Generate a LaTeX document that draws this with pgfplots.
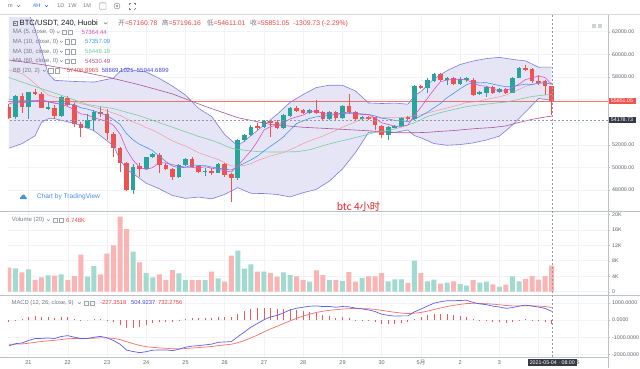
\documentclass[border=0pt]{standalone}
\usepackage{pgfplots}
\pgfplotsset{compat=1.18}
\usepackage{pgfplotstable}
\usepackage{fontspec}
\setmainfont{Liberation Sans}
\newfontfamily\cjk{Noto Sans CJK SC}

\definecolor{upc}{RGB}{38,166,154}
\definecolor{dnc}{RGB}{239,83,80}
\definecolor{volup}{RGB}{162,218,207}
\definecolor{voldn}{RGB}{249,180,179}
\definecolor{bbline}{RGB}{125,125,225}
\definecolor{bbfill}{RGB}{229,229,245}
\definecolor{bbmid}{RGB}{245,135,135}
\definecolor{ma5c}{RGB}{222,80,200}
\definecolor{ma10c}{RGB}{70,150,235}
\definecolor{ma30c}{RGB}{120,205,160}
\definecolor{ma60c}{RGB}{175,85,150}
\definecolor{macdc}{RGB}{95,95,235}
\definecolor{sigc}{RGB}{240,115,105}
\definecolor{histc}{RGB}{240,90,90}
\definecolor{gridc}{RGB}{240,243,250}
\definecolor{txtg}{RGB}{120,123,134}
\definecolor{axt}{RGB}{95,99,109}
\definecolor{sepc}{RGB}{190,193,200}
\definecolor{valred}{RGB}{240,70,70}
\definecolor{valblue}{RGB}{70,70,225}
\definecolor{tvblue}{RGB}{41,98,255}
\definecolor{tvlogo}{RGB}{70,145,230}
\definecolor{darkbox}{RGB}{54,58,69}
\definecolor{crossc}{RGB}{149,152,161}
\definecolor{titlec}{RGB}{19,23,34}
\definecolor{capred}{RGB}{230,35,35}

% candles: i open high low close volume(K)
\pgfplotstableread{
i o h l c v
1 54429 56404 54252 56315 6.03
3 55372 56698 54252 56639 5.78
6 55225 55814 55078 55372 4.23
8 54576 56315 54488 56197 4.48
12 53516 54724 53457 54193 3.88
13 54193 55078 53221 54930 6.64
19 48004 50274 47622 50068 10.34
21 49832 50952 49773 50893 4.83
22 50893 51246 50863 51158 3.71
26 49125 50304 49036 50215 4.74
27 50215 50804 50126 50716 3.02
30 49625 49920 49242 49684 3.02
32 49537 50362 49478 50274 3.45
35 49036 52484 48889 52425 10.6
36 52425 52956 52280 52867 5.95
37 52867 53751 52780 53604 7.07
39 53604 54193 53500 54105 5.17
42 53457 54724 53400 54636 5.0
43 54576 55300 54500 55225 4.31
46 54842 55150 54750 55078 2.59
49 54282 54950 54193 54871 3.02
51 54341 55500 54250 55431 2.76
54 54282 54550 54200 54488 3.54
58 52868 53663 52425 53545 2.68
59 53545 53750 53450 53693 3.19
60 53663 54429 53604 54341 3.19
62 54253 57288 54194 57200 8.02
64 57052 57877 56551 57730 2.68
65 57671 58378 57583 58231 3.11
67 57789 57966 57288 57877 2.33
69 57376 58025 57288 57789 1.99
70 57789 57966 57583 57877 1.56
72 56551 56787 56404 56699 2.33
73 56610 57200 56198 57141 2.59
75 56699 56993 56551 56905 1.30
77 56610 58025 56551 57936 3.97
78 57936 58909 57877 58761 2.68
}\candUp
\pgfplotstableread{
i o h l c v
0 55300 55600 54300 54400 6.21
2 56315 56551 54783 55372 5.00
4 56639 56905 56404 56463 3.02
5 56492 56698 55225 55284 3.71
7 55284 55520 54252 54576 4.14
9 56168 56345 55461 55520 3.02
10 55520 55667 53604 53810 4.05
11 53810 54046 52720 53516 9.57
14 54871 55372 54488 54694 4.48
15 54694 55137 52425 53015 9.82
16 52956 53162 50952 51747 11.98
17 51747 51777 49625 50362 19.39
18 50362 50510 47946 48004 16.2
20 50126 50362 49183 49832 7.59
23 51099 51246 49478 50215 4.48
24 50215 50362 49773 49861 3.02
25 49832 49920 48889 49125 5.6
28 50716 50952 50009 50068 3.02
29 50126 50215 49478 49625 3.02
31 49684 49920 49331 49566 5.17
33 50274 50362 49183 49331 2.59
34 49390 49500 46973 49095 9.31
38 53700 53899 53310 53500 5.17
40 54105 54193 52720 53958 4.83
41 54046 54150 53400 53516 3.88
44 55225 55450 54900 54989 3.97
45 55078 55200 54700 54783 3.02
47 55078 55962 54724 54842 5.52
48 54871 54950 54200 54282 4.31
50 54930 55000 54193 54341 3.02
52 55431 56463 54724 54871 5.09
53 54871 54950 54105 54282 2.59
55 54488 54550 54200 54341 3.97
56 54429 54488 53310 53751 3.97
57 53693 53752 52573 52868 4.83
61 54429 54547 54194 54253 2.25
63 57200 57300 56950 57052 4.83
66 58231 58378 57671 57730 2.07
68 57877 57966 57288 57376 2.68
71 57730 57877 56315 56404 3.02
74 57141 57200 56492 56610 1.90
76 56905 56993 56492 56610 1.81
79 58761 59056 58555 58614 3.28
80 58673 58761 57435 57641 4.05
81 57641 58172 57288 57494 3.11
82 57641 57730 56404 57200 4.05
83 57160.78 57196.16 54611.01 55851.05 6.748
}\candDn

% Bollinger upper / lower
\pgfplotstableread{
i v
0 65500
1 65000
2 64400
3 63700
4 62200
5 60300
6 58300
7 57700
10 57600
13 57550
16 57900
17 58500
18 58800
19 58590
21 58440
23 57870
25 57200
27 56400
29 55220
31 54500
33 52900
35 51900
37 52800
39 53750
41 54690
43 55750
45 56450
47 57060
49 57270
51 57260
53 56760
55 55700
57 55650
59 55690
61 55590
62 56330
63 56700
65 57830
67 58560
69 59100
71 59410
73 59620
75 59730
77 59550
79 59420
81 58860
83 58870
}\bbU
\pgfplotstableread{
i v
0 51700
2 52100
4 52800
5 54000
6 54300
7 54300
10 53900
13 53250
16 51900
17 50700
18 49800
19 49450
21 48600
23 48110
25 47520
27 47260
29 47380
31 47220
33 47620
35 48210
37 47710
39 47690
41 47610
43 47390
45 47770
47 48060
49 48790
51 49860
53 51320
55 53100
57 53170
59 53090
61 53310
62 52810
63 52620
65 52110
67 51960
69 52020
71 52170
73 52420
75 52770
77 53750
79 54900
81 56100
83 55940
}\bbL

% MACD line, signal, histogram
\pgfplotstableread{
i m s h
0 -1506 -1416 -90
1 -1380 -1409 29
2 -1341 -1395 54
3 -1194 -1355 161
4 -1080 -1300 220
5 -1072 -1254 182
6 -1047 -1213 166
7 -1078 -1186 108
8 -961 -1141 180
9 -913 -1095 182
10 -1001 -1076 75
11 -1081 -1077 -4
12 -1078 -1077 -1
13 -1005 -1063 58
14 -956 -1041 85
15 -1039 -1041 2
16 -1194 -1072 -122
17 -1413 -1140 -273
18 -1756 -1263 -493
19 -1839 -1378 -461
20 -1903 -1483 -420
21 -1847 -1556 -291
22 -1761 -1597 -164
23 -1747 -1627 -120
24 -1746 -1651 -95
25 -1783 -1677 -106
26 -1705 -1683 -22
27 -1584 -1663 79
28 -1524 -1635 111
29 -1494 -1607 113
30 -1450 -1576 126
31 -1407 -1542 135
32 -1302 -1494 192
33 -1279 -1451 172
34 -1266 -1414 148
35 -975 -1326 351
36 -701 -1201 500
37 -421 -1045 624
38 -204 -877 673
39 17 -698 715
40 178 -523 701
41 267 -365 632
42 423 -207 630
43 587 -48 635
44 690 100 590
45 746 229 517
46 805 344 461
47 823 440 383
48 783 509 274
49 790 565 225
50 745 601 144
51 787 638 149
52 766 664 102
53 694 670 24
54 647 665 -18
55 591 650 -59
56 494 619 -125
57 341 563 -222
58 272 505 -233
59 226 449 -223
60 240 407 -167
61 240 374 -134
62 473 394 79
63 638 443 195
64 814 517 297
65 983 610 373
66 1064 701 363
67 1127 786 341
68 1124 854 270
69 1141 911 230
70 1149 959 190
71 1024 972 52
72 938 965 -27
73 896 951 -55
74 810 923 -113
75 757 890 -133
76 683 849 -166
77 724 824 -100
78 813 822 -9
79 862 830 32
80 813 827 -14
81 753 812 -59
82 674 784 -110
83 505 732 -227
}\macd

\pgfplotsset{
  pane/.style={scale only axis, width=600pt, xmin=-0.1376, xmax=91.606,
    scaled x ticks=false, scaled y ticks=false,
    axis line style={draw=none}, tick style={draw=none},
    xticklabels={}, yticklabels={}, xtick={3,9,...,87},
    grid=major, major grid style={draw=gridc, line width=0.5pt}},
  wick/.style={draw=none, mark=none, forget plot,
    error bars/.cd, y dir=both, y explicit, error mark=none,
    error bar style={draw=#1, line width=0.9pt, solid}},
  body/.style={draw=none, mark=none, forget plot,
    error bars/.cd, y dir=both, y explicit, error mark=none,
    error bar style={draw=#1, line width=4.6pt, solid}},
}

\begin{document}
\begin{tikzpicture}
\fill[white] (0pt,0pt) rectangle (640pt,368pt);

% ---------------- main price pane ----------------
\begin{axis}[pane, at={(8pt,351pt)}, anchor=north west, height=194pt,
  ymin=46147, ymax=63300,
  ytick={48000,50000,52000,54000,56000,58000,60000,62000}]
  \addplot[fill=bbfill, draw=none] coordinates {(0,65500)(1,65000)(2,64400)(3,63700)(4,62200)(5,60300)(6,58300)(7,57700)(10,57600)(13,57550)(16,57900)(17,58500)(18,58800)(19,58590)(21,58440)(23,57870)(25,57200)(27,56400)(29,55220)(31,54500)(33,52900)(35,51900)(37,52800)(39,53750)(41,54690)(43,55750)(45,56450)(47,57060)(49,57270)(51,57260)(53,56760)(55,55700)(57,55650)(59,55690)(61,55590)(62,56330)(63,56700)(65,57830)(67,58560)(69,59100)(71,59410)(73,59620)(75,59730)(77,59550)(79,59420)(81,58860)(83,58870)
    (83,55940)(81,56100)(79,54900)(77,53750)(75,52770)(73,52420)(71,52170)(69,52020)(67,51960)(65,52110)(63,52620)(62,52810)(61,53310)(59,53090)(57,53170)(55,53100)(53,51320)(51,49860)(49,48790)(47,48060)(45,47770)(43,47390)(41,47610)(39,47690)(37,47710)(35,48210)(33,47620)(31,47220)(29,47380)(27,47260)(25,47520)(23,48110)(21,48600)(19,49450)(18,49800)(17,50700)(16,51900)(13,53250)(10,53900)(7,54300)(6,54300)(5,54000)(4,52800)(2,52100)(0,51700)} -- cycle;
  \addplot[dnc, line width=0.5pt, opacity=0.8] coordinates {(-1,55851.05) (92,55851.05)};
  \addplot[wick=upc] table[x=i, y expr={(\thisrow{h}+\thisrow{l})/2}, y error expr={(\thisrow{h}-\thisrow{l})/2}]{\candUp};
  \addplot[wick=dnc] table[x=i, y expr={(\thisrow{h}+\thisrow{l})/2}, y error expr={(\thisrow{h}-\thisrow{l})/2}]{\candDn};
  \addplot[body=upc] table[x=i, y expr={(\thisrow{o}+\thisrow{c})/2}, y error expr={max(abs(\thisrow{c}-\thisrow{o})/2,45)}]{\candUp};
  \addplot[body=dnc] table[x=i, y expr={(\thisrow{o}+\thisrow{c})/2}, y error expr={max(abs(\thisrow{c}-\thisrow{o})/2,45)}]{\candDn};
  \addplot[bbline, line width=0.6pt] table[x=i,y=v]{\bbU};
  \addplot[bbline, line width=0.6pt] table[x=i,y=v]{\bbL};
  \addplot[bbmid, line width=0.5pt, opacity=0.8] coordinates {(0,58600)(2,58300)(3,57900)(4,57400)(5,56900)(6,56400)(9,55900)(12,55500)(15,55000)(17,54600)(18,54300)(19,54020)(20,53800)(21,53520)(22,53310)(23,52990)(24,52660)(25,52360)(26,52100)(27,51900)(28,51600)(29,51300)(30,51100)(31,50900)(32,50700)(33,50420)(34,50140)(35,50110)(36,50170)(37,50330)(38,50610)(39,50810)(40,51020)(41,51150)(42,51320)(43,51570)(44,51830)(45,52110)(46,52350)(47,52560)(48,52770)(49,53030)(50,53270)(51,53560)(52,53790)(53,54040)(54,54310)(55,54400)(56,54450)(57,54410)(58,54410)(59,54390)(60,54410)(61,54450)(62,54570)(63,54660)(64,54800)(65,54970)(66,55110)(67,55260)(68,55410)(69,55560)(70,55740)(71,55790)(72,55880)(73,56020)(74,56130)(75,56250)(76,56400)(77,56650)(78,56910)(79,57160)(80,57320)(81,57480)(82,57480)(83,57407)};
  \addplot[ma60c, line width=0.6pt] coordinates {(0,59500)(5,59100)(10,58600)(15,58000)(20,57300)(25,56500)(30,55400)(35,54400)(40,53800)(45,53550)(50,53400)(55,53240)(59,53070)(62,53070)(64,53100)(66,53190)(68,53260)(70,53370)(72,53460)(74,53530)(76,53670)(78,53980)(80,54250)(82,54460)(83,54530)};
  \addplot[ma30c, line width=0.6pt] coordinates {(0,57950)(4,57150)(8,56380)(12,55560)(16,55200)(20,54560)(24,53760)(28,52950)(29,52740)(30,52580)(32,52190)(34,51700)(36,51520)(38,51400)(40,51360)(42,51370)(44,51390)(46,51560)(48,51920)(50,52230)(52,52500)(54,52790)(56,53090)(58,53270)(60,53560)(62,53950)(64,54500)(66,54850)(68,55120)(70,55380)(72,55540)(74,55660)(76,55780)(78,56030)(80,56270)(82,56410)(83,56448)};
  \addplot[ma10c, line width=0.6pt] coordinates {(0,56000)(1,56000)(2,55900)(3,55900)(4,55900)(5,55900)(6,55800)(7,55700)(8,55650)(9,55610)(10,55560)(11,55280)(12,55160)(13,54990)(14,54810)(15,54580)(16,54220)(17,53800)(18,52980)(19,52430)(20,52040)(21,51770)(22,51470)(23,51000)(24,50520)(25,50130)(26,49970)(27,50010)(28,50220)(29,50170)(30,50160)(31,50030)(32,49940)(33,49850)(34,49770)(35,50100)(36,50370)(37,50660)(38,51000)(39,51450)(40,51870)(41,52270)(42,52710)(43,53300)(44,53890)(45,54120)(46,54340)(47,54470)(48,54540)(49,54620)(50,54660)(51,54850)(52,54870)(53,54780)(54,54730)(55,54680)(56,54550)(57,54350)(58,54280)(59,54160)(60,54160)(61,54040)(62,54280)(63,54550)(64,54880)(65,55270)(66,55660)(67,56170)(68,56550)(69,56960)(70,57310)(71,57530)(72,57480)(73,57490)(74,57370)(75,57240)(76,57130)(77,57140)(78,57270)(79,57360)(80,57330)(81,57440)(82,57490)(83,57357)};
  \addplot[ma5c, line width=0.6pt] coordinates {(0,55600)(1,55800)(2,55700)(3,55800)(4,55840)(5,56010)(6,55820)(7,55670)(8,55580)(9,55390)(10,55100)(11,54730)(12,54650)(13,54390)(14,54230)(15,54070)(16,53720)(17,52950)(18,51560)(19,50640)(20,50000)(21,49830)(22,49990)(23,50430)(24,50390)(25,50250)(26,50120)(27,50030)(28,50000)(29,49950)(30,50060)(31,49930)(32,49840)(33,49700)(34,49590)(35,50140)(36,50800)(37,51470)(38,52300)(39,53300)(40,53610)(41,53740)(42,53950)(43,54290)(44,54470)(45,54630)(46,54940)(47,54980)(48,54790)(49,54770)(50,54680)(51,54750)(52,54760)(53,54760)(54,54680)(55,54680)(56,54350)(57,53950)(58,53800)(59,53640)(60,53640)(61,53740)(62,54610)(63,55310)(64,56110)(65,56890)(66,57590)(67,57720)(68,57790)(69,57800)(70,57730)(71,57470)(72,57230)(73,57180)(74,56950)(75,56750)(76,56790)(77,57040)(78,57370)(79,57770)(80,57910)(81,58090)(82,57940)(83,57364)};
  \addplot[crossc, line width=0.5pt, dash pattern=on 2pt off 2pt] coordinates {(-1,54178.73) (92,54178.73)};
\end{axis}

% ---------------- volume pane ----------------
\begin{axis}[pane, at={(8pt,157pt)}, anchor=north west, height=84pt,
  ymin=-0.853, ymax=20.85, ytick={0,4,8,12,16,20}]
  \addplot[ybar, bar width=5pt, bar shift=0pt, fill=volup, draw=none] table[x=i,y=v]{\candUp};
  \addplot[ybar, bar width=5pt, bar shift=0pt, fill=voldn, draw=none] table[x=i,y=v]{\candDn};
\end{axis}

% ---------------- MACD pane ----------------
\begin{axis}[pane, at={(8pt,73pt)}, anchor=north west, height=63pt,
  ymin=-2216, ymax=1458, ytick={-2000,-1000,0,1000}]
  \addplot[ycomb, histc, line width=0.8pt] table[x=i,y=h]{\macd};
  \addplot[sigc, line width=0.7pt] table[x=i,y=s]{\macd};
  \addplot[macdc, line width=0.7pt] table[x=i,y=m]{\macd};
\end{axis}

% ---------------- decorations in pixel coordinates ----------------
\begin{scope}[shift={(0pt,368pt)}, x=1pt, y=-1pt]
  \draw[sepc!60, line width=0.5pt] (0,14.5) -- (640,14.5);
  \draw[sepc, line width=0.7pt] (0,211) -- (640,211);
  \draw[sepc, line width=0.7pt] (0,295) -- (640,295);
  \draw[sepc, line width=0.6pt] (0,357.5) -- (608,357.5);
  \draw[sepc, line width=0.6pt] (608,14.5) -- (608,368);
  \draw[crossc, line width=0.5pt, dash pattern=on 2pt off 2pt] (552.3,14.5) -- (552.3,357.5);

  % toolbar
  \node[anchor=west, inner sep=0pt, text=txtg, font=\fontsize{5.5}{6}\selectfont] at (8,6) {m};
  \draw[txtg, line width=0.5pt] (17,5.2) -- (18.5,6.8) -- (20,5.2);
  \node[anchor=west, inner sep=0pt, text=tvblue, font=\fontsize{5.5}{6}\selectfont] at (33,6) {4H};
  \draw[tvblue, line width=0.5pt] (45,5.2) -- (46.5,6.8) -- (48,5.2);
  \node[anchor=west, inner sep=0pt, text=txtg, font=\fontsize{5.5}{6}\selectfont] at (57,6) {1D};
  \node[anchor=west, inner sep=0pt, text=txtg, font=\fontsize{5.5}{6}\selectfont] at (68,6) {1W};
  \node[anchor=west, inner sep=0pt, text=txtg, font=\fontsize{5.5}{6}\selectfont] at (83,6) {1M};
  \draw[txtg, line width=0.4pt, rounded corners=0.6pt] (99.5,2.8) rectangle (106,9.2);
  \draw[txtg, line width=0.4pt] (117,6) circle (3);
  \draw[txtg, line width=0.4pt] (117,6) circle (1.1);
  \draw[txtg, line width=0.4pt] (129,3) -- (129,4.5) (129,3) -- (130.5,3) (135,3) -- (135,4.5) (135,3) -- (133.5,3)
        (129,9) -- (129,7.5) (129,9) -- (130.5,9) (135,9) -- (135,7.5) (135,9) -- (133.5,9);

  % title row
  \draw[txtg, line width=0.45pt] (12.8,21) rectangle (17.3,25.5);
  \draw[txtg, line width=0.45pt] (13.8,23.25) -- (16.3,23.25);
  \node[anchor=west, inner sep=0pt, text=titlec, font=\fontsize{7.6}{8}\selectfont] at (19.5,23.3) {BTC/USDT, 240, Huobi};
  \draw[txtg, line width=0.45pt] (104,22.5) -- (105.5,24) -- (107,22.5);
  \node[anchor=west, inner sep=0pt, font=\fontsize{6.8}{8}\selectfont] at (118,23.3) {{\cjk\color{txtg}开}\textcolor{valred}{=57160.78}};
  \node[anchor=west, inner sep=0pt, font=\fontsize{6.8}{8}\selectfont] at (161.7,23.3) {{\cjk\color{txtg}高}\textcolor{valred}{=57196.16}};
  \node[anchor=west, inner sep=0pt, font=\fontsize{6.8}{8}\selectfont] at (206.7,23.3) {{\cjk\color{txtg}低}\textcolor{valred}{=54611.01}};
  \node[anchor=west, inner sep=0pt, font=\fontsize{6.8}{8}\selectfont] at (250,23.3) {{\cjk\color{txtg}收}\textcolor{valred}{=55851.05}};
  \node[anchor=west, inner sep=0pt, text=valred, font=\fontsize{6.8}{8}\selectfont] at (293,23.3) {-1309.73 (-2.29\%)};

  % legend rows
  \foreach \yy/\lab/\ix/\vx/\val/\col in {
      32.3/{MA (5, close, 0)}/62/81.5/57364.44/ma5c,
      41.7/{MA (10, close, 0)}/65/85/57357.09/ma10c,
      51.7/{MA (30, close, 0)}/65/85/56448.18/ma30c,
      61/{MA (60, close, 0)}/65/85/54530.49/ma60c} {
    \node[anchor=west, inner sep=0pt, text=txtg, font=\fontsize{6}{7}\selectfont] at (12.7,\yy) {\lab};
    \draw[txtg, line width=0.4pt] (\ix-5,\yy-0.7) -- (\ix-3.6,\yy+0.7) -- (\ix-2.2,\yy-0.7);
    \draw[txtg!70, line width=0.4pt] (\ix,\yy-2.2) rectangle (\ix+4.4,\yy+2.2);
    \draw[txtg!70, line width=0.4pt] (\ix+6.2,\yy-2.2) rectangle (\ix+10.6,\yy+2.2);
    \node[anchor=west, inner sep=0pt, text=\col, font=\fontsize{6}{7}\selectfont] at (\vx,\yy) {\val};
  }
  \node[anchor=west, inner sep=0pt, text=txtg, font=\fontsize{6}{7}\selectfont] at (12.7,70.7) {BB (20, 2)};
  \draw[txtg, line width=0.4pt] (43,70) -- (44.4,71.4) -- (45.8,70);
  \draw[txtg!70, line width=0.4pt] (48.5,68.5) rectangle (52.9,72.9);
  \draw[txtg!70, line width=0.4pt] (54.7,68.5) rectangle (59.1,72.9);
  \node[anchor=west, inner sep=0pt, text=valred, font=\fontsize{6}{7}\selectfont] at (66.7,70.7) {57406.8965};
  \node[anchor=west, inner sep=0pt, text=valblue, font=\fontsize{6}{7}\selectfont] at (101.7,70.7) {58869.1021};
  \node[anchor=west, inner sep=0pt, text=valblue, font=\fontsize{6}{7}\selectfont] at (136.7,70.7) {55944.6899};

  % top-right pane buttons
  \fill[txtg!35] (591.5,23.5) rectangle (596,28);
  \fill[txtg!35] (597.5,23.5) rectangle (602,28);

  % Chart by TradingView
  \fill[white] (23.2,196.7) circle (5.5);
  \fill[tvlogo] (19.8,199) rectangle (26.6,197.6);
  \fill[tvlogo] (21.2,197.8) circle (1.4);
  \fill[tvlogo] (23.4,196.6) circle (2);
  \fill[tvlogo] (25.4,197.8) circle (1.3);
  \node[anchor=west, inner sep=0pt, text=tvlogo, font=\fontsize{6.6}{8}\selectfont] at (36.7,196.7) {Chart by TradingView};

  % caption
  \node[inner sep=0pt, text=capred, font=\fontsize{10.2}{12}\selectfont\cjk] at (358.5,206.3) {btc 4小时};

  % volume legend
  \node[anchor=west, inner sep=0pt, text=txtg, font=\fontsize{6}{7}\selectfont] at (11.7,220) {Volume (20)};
  \draw[txtg, line width=0.4pt] (47,219.3) -- (48.4,220.7) -- (49.8,219.3);
  \draw[txtg!70, line width=0.4pt] (53,217.8) rectangle (57.4,222.2);
  \draw[txtg!70, line width=0.4pt] (59.2,217.8) rectangle (63.6,222.2);
  \node[anchor=west, inner sep=0pt, text=valred, font=\fontsize{6}{7}\selectfont] at (66,220) {6.748K};

  % MACD legend
  \node[anchor=west, inner sep=0pt, text=txtg, font=\fontsize{5.8}{7}\selectfont] at (11.5,303) {MACD (12, 26, close, 9)};
  \draw[txtg, line width=0.4pt] (78,302.3) -- (79.4,303.7) -- (80.8,302.3);
  \draw[txtg!70, line width=0.4pt] (84,300.8) rectangle (88.4,305.2);
  \draw[txtg!70, line width=0.4pt] (90.2,300.8) rectangle (94.6,305.2);
  \node[anchor=west, inner sep=0pt, text=valred, font=\fontsize{5.8}{7}\selectfont] at (100,303) {-227.3518};
  \node[anchor=west, inner sep=0pt, text=valblue, font=\fontsize{5.8}{7}\selectfont] at (131,303) {504.9237};
  \node[anchor=west, inner sep=0pt, text=valred, font=\fontsize{5.8}{7}\selectfont] at (158,303) {732.2756};

  % right price scale
  \foreach \yy/\lab in {31.7/62000.00, 54.3/60000.00, 76.9/58000.00, 144.8/52000.00, 167.4/50000.00, 190.0/48000.00,
                        214.3/20K, 229.8/16K, 245.3/12K, 260.7/8K, 276.2/4K, 291.7/0,
                        302.9/1000.0000, 320.0/0.0000, 337.2/-1000.0000, 354.3/-2000.0000} {
    \draw[sepc, line width=0.4pt] (608,\yy) -- (610,\yy);
    \node[anchor=west, inner sep=0pt, text=axt, font=\fontsize{5.3}{6}\selectfont] at (612,\yy) {\lab};
  }
  \node[anchor=west, fill=dnc, text=white, inner xsep=1.5pt, inner ysep=1.2pt, minimum width=27pt, font=\fontsize{5.3}{6}\selectfont] at (608.3,100.7) {55851.05};
  \node[anchor=west, fill=darkbox, text=white, inner xsep=1.5pt, inner ysep=1.2pt, minimum width=27pt, font=\fontsize{5.3}{6}\selectfont] at (608.3,119.7) {54178.73};

  % time axis
  \foreach \xx/\lab in {28.5/21, 67.7/22, 107.0/23, 146.2/24, 185.5/25, 224.7/26, 264.0/27, 303.2/28, 342.5/29, 381.7/30, 460.2/2, 499.4/3, 577.9/5} {
    \node[inner sep=0pt, text=axt, font=\fontsize{5.5}{6}\selectfont] at (\xx,362.5) {\lab};
  }
  \node[inner sep=0pt, text=axt, font=\fontsize{5.5}{6}\selectfont] at (421,362.5) {5{\cjk 月}};
  \node[fill=darkbox, text=white, inner xsep=2pt, inner ysep=1.6pt, font=\fontsize{5.3}{6}\selectfont] at (552.3,362.6) {2021-05-04 · 08:00};
\end{scope}
\pgfresetboundingbox
\path (0pt,0pt) rectangle (640pt,368pt);
\end{tikzpicture}
\end{document}
